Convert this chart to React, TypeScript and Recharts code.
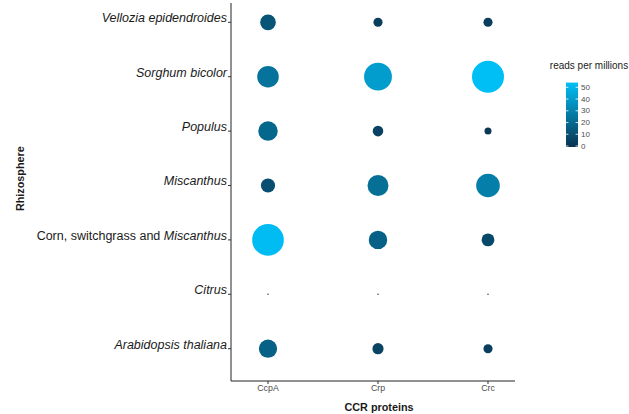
import React from 'react';
import { ScatterChart, Scatter, XAxis, YAxis, ZAxis, Cell, Legend, Label } from 'recharts';

const proteins = ['CcpA', 'Crp', 'Crc'];
const rhizospheres = [
  'Vellozia epidendroides',
  'Sorghum bicolor',
  'Populus',
  'Miscanthus',
  'Corn, switchgrass and Miscanthus',
  'Citrus',
  'Arabidopsis thaliana',
];
// label segments: [text, italic]
const rhizosphereLabelParts: [string, boolean][][] = [
  [['Vellozia epidendroides', true]],
  [['Sorghum bicolor', true]],
  [['Populus', true]],
  [['Miscanthus', true]],
  [['Corn, switchgrass and ', false], ['Miscanthus', true]],
  [['Citrus', true]],
  [['Arabidopsis thaliana', true]],
];
// reads per millions, in rhizosphere order (top to bottom)
const ccpAValues = [13, 24.5, 20, 10.5, 53, 0, 17.5];
const crpValues = [4.3, 40.8, 5.8, 23, 17.9, 0, 6.5];
const crcValues = [4.3, 54, 2.5, 29.5, 8.6, 0, 4.3];
const legendTicks = [0, 10, 20, 30, 40, 50];

const VMAX = 54;
const FONT = '"Liberation Sans", Arial, Helvetica, sans-serif';
const LOW = [10, 51, 80];
const HIGH = [0, 191, 245];

const colorFor = (v: number) => {
  const t = Math.max(0, Math.min(1, v / VMAX));
  const c = LOW.map((l, i) => Math.round(l + (HIGH[i] - l) * t));
  return `rgb(${c[0]},${c[1]},${c[2]})`;
};

const seriesValues = [ccpAValues, crpValues, crcValues];
const data = seriesValues.flatMap((vals, pi) =>
  vals.map((v, ri) => ({
    x: pi + 1,
    y: rhizospheres.length - ri,
    v,
    protein: proteins[pi],
    rhizosphere: rhizospheres[ri],
  }))
);

const YTick = (props: any) => {
  const { x, y, payload } = props;
  const idx = rhizospheres.length - payload.value;
  const parts = rhizosphereLabelParts[idx] || [];
  return (
    <text x={x} y={y} dy={0} textAnchor="end" fontFamily={FONT} fontSize={12.5} fill="#1a1a1a">
      {parts.map(([t, it], i) => (
        <tspan key={i} fontStyle={it ? 'italic' : 'normal'}>{t}</tspan>
      ))}
    </text>
  );
};

const ColorBar = () => {
  const yOf = (v: number) => 96 - v * 1.174;
  const top = yOf(VMAX);
  const bottom = yOf(0) + 1;
  const stops = [0, 0.25, 0.5, 0.75, 1];
  return (
    <svg width={89} height={105} style={{ overflow: 'visible' }}>
      <defs>
        <linearGradient id="cbar" x1="0" y1="1" x2="0" y2="0">
          {stops.map((s) => (
            <stop key={s} offset={s} stopColor={colorFor(s * VMAX)} />
          ))}
        </linearGradient>
      </defs>
      <text x={49} y={15} textAnchor="middle" dominantBaseline="central" fontFamily={FONT} fontSize={10} fill="#1a1a1a">
        reads per millions
      </text>
      <rect x={26} y={top} width={12} height={bottom - top} fill="url(#cbar)" />
      {legendTicks.map((t) => (
        <g key={t}>
          <line x1={26} x2={28.4} y1={yOf(t)} y2={yOf(t)} stroke="#fff" strokeWidth={0.8} />
          <line x1={35.6} x2={38} y1={yOf(t)} y2={yOf(t)} stroke="#fff" strokeWidth={0.8} />
          <text x={41} y={yOf(t)} dominantBaseline="central" fontFamily={FONT} fontSize={8} fill="#4d4d4d">
            {t}
          </text>
        </g>
      ))}
    </svg>
  );
};

export default function App() {
  return (
    <div style={{ position: 'absolute', left: 0, top: 0, width: 629, height: 414, background: '#fff' }}>
      <ScatterChart width={629} height={414} margin={{ top: 3, right: 114, bottom: 0, left: 0 }}>
        <XAxis
          type="number"
          dataKey="x"
          domain={[0.6636, 3.2455]}
          allowDataOverflow
          ticks={[1, 2, 3]}
          tickFormatter={(v: number) => proteins[v - 1]}
          height={33}
          tickSize={3}
          tickMargin={1}
          axisLine={{ stroke: '#222', strokeWidth: 1 }}
          tickLine={{ stroke: '#333' }}
          tick={{ fontSize: 8.8, fill: '#4d4d4d', fontFamily: FONT }}
        >
          <Label
            content={(p: any) => {
              const vb = p.viewBox;
              return (
                <text x={vb.x + vb.width / 2 + 6} y={411} textAnchor="middle" fontFamily={FONT} fontSize={10.8} fontWeight="bold" fill="#1a1a1a">
                  CCR proteins
                </text>
              );
            }}
          />
        </XAxis>
        <YAxis
          type="number"
          dataKey="y"
          domain={[0.406, 7.355]}
          allowDataOverflow
          ticks={[1, 2, 3, 4, 5, 6, 7]}
          width={231}
          tickSize={3}
          tickMargin={1}
          axisLine={{ stroke: '#222', strokeWidth: 1 }}
          tickLine={{ stroke: '#333' }}
          tick={<YTick />}
        >
          <Label
            content={() => (
              <text transform="translate(19.5,178.7) rotate(-90)" textAnchor="middle" dominantBaseline="central" fontFamily={FONT} fontSize={10.8} fontWeight="bold" fill="#1a1a1a">
                Rhizosphere
              </text>
            )}
          />
        </YAxis>
        <ZAxis type="number" dataKey="v" domain={[0, VMAX]} range={[1.5, 804]} />
        <Legend
          layout="vertical"
          align="center"
          verticalAlign="middle"
          wrapperStyle={{ position: 'absolute', left: 540, top: 50, width: 89, height: 105 }}
          content={() => <ColorBar />}
        />
        <Scatter data={data} isAnimationActive={false} shape="circle">
          {data.map((d, i) => (
            <Cell key={i} fill={colorFor(d.v)} />
          ))}
        </Scatter>
      </ScatterChart>
    </div>
  );
}
